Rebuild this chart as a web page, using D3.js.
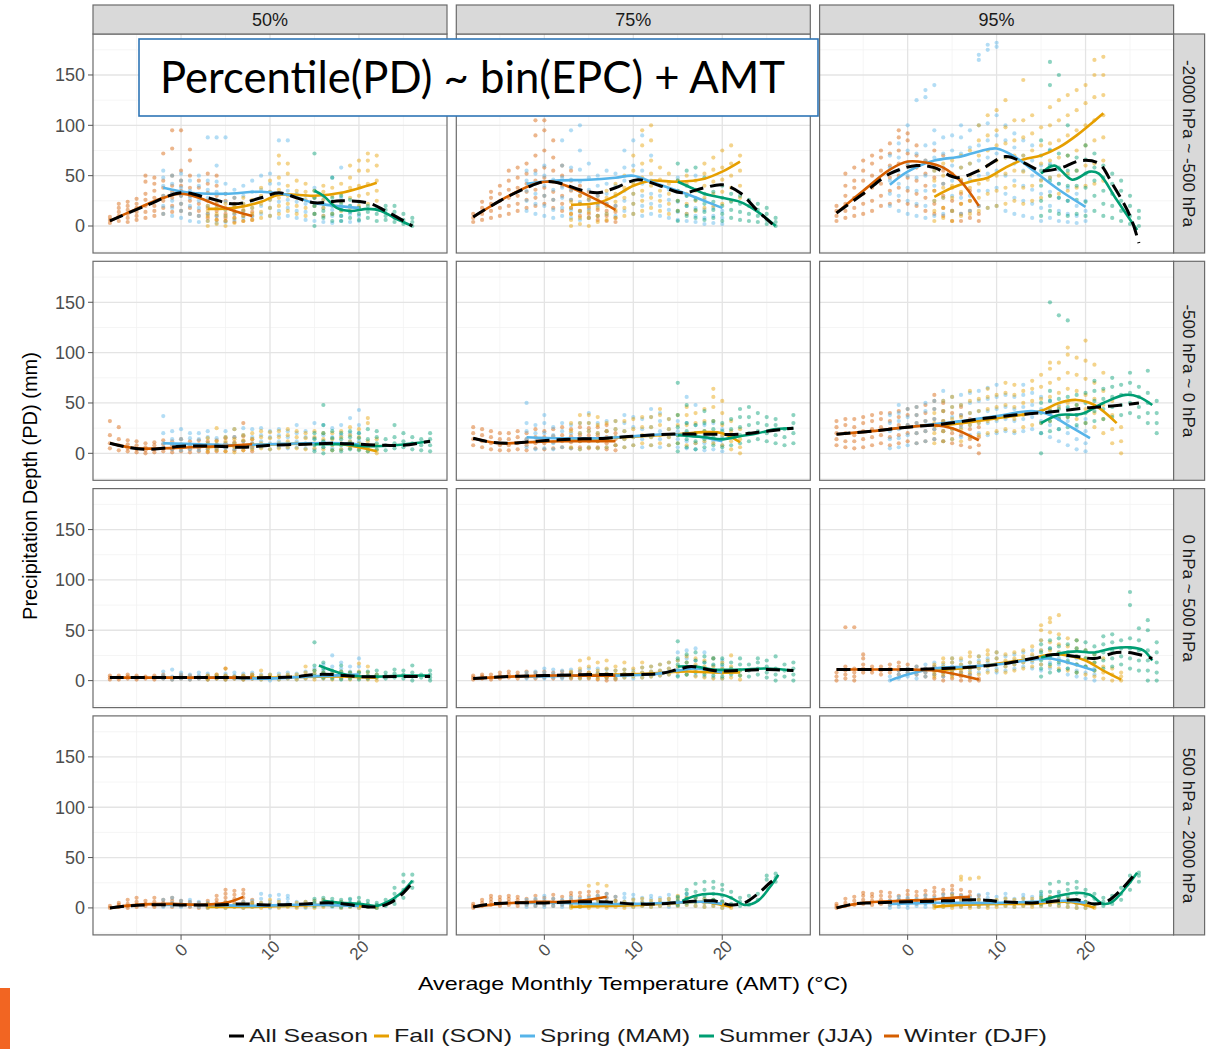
<!DOCTYPE html>
<html><head><meta charset="utf-8">
<script src="https://cdn.jsdelivr.net/npm/d3@7"></script>
<style>html,body{margin:0;padding:0;background:#fff;}svg{display:block;}</style>
</head><body>
<svg id="c" width="1209" height="1049"></svg>
<script>
// ---------- categories ----------
const percentiles = ["50%", "75%", "95%"];
const levels = ["-2000 hPa ~ -500 hPa", "-500 hPa ~ 0 hPa", "0 hPa ~ 500 hPa", "500 hPa ~ 2000 hPa"];
const seasonCodes = ["A", "F", "S", "U", "W"];
const seasonNames = ["All Season", "Fall (SON)", "Spring (MAM)", "Summer (JJA)", "Winter (DJF)"];
const xTicks = [0, 10, 20];
const yTicks = [0, 50, 100, 150];
const xMinor = [-5, 5, 15, 25];
const yMinor = [-25, 25, 75, 125, 175];
const yTitle = "Precipitation Depth (PD) (mm)";
const xTitle = "Average Monthly Temperature (AMT) (°C)";
const overlayText = "Percentile(PD) ~ bin(EPC) + AMT";

// ---------- points: [season, AMT, PD values...] ----------
const pts_r1_50 = [
["W",-8,3,6,9],["W",-7,5,10,14,18,22],["W",-6,4,8,12,16,20,24],["W",-5,6,10,14,18,22,27],["W",-4,8,14,20,26,32,44,50],
["W",-3,10,15,20,28,35,42,48],["W",-2,12,18,25,30,38,45,72],["W",-1,14,20,28,34,40,50,77,95],["W",0,15,22,30,35,40,45,55,95],
["W",1,12,18,25,30,38,50,65,76],["W",2,10,15,22,30,38,45],["W",3,8,12,18,25,33,42,52],["W",4,6,10,15,22,30,40,50],
["W",5,5,8,12,18,25,32],["W",6,4,8,12,18,22,28],["W",7,5,10,15,20],["W",8,6,10,14],
["S",-2,12,20,30,40,48,55],["S",-1,10,18,25,32,42,50],["S",0,8,15,22,30,38,45,52],["S",1,5,12,20,28,35,45],["S",2,4,10,18,25,32,40,50],
["S",3,5,12,20,28,36,45,88],["S",4,3,10,18,26,34,44,60,88],["S",5,4,10,16,24,32,42,88],["S",6,6,12,20,28,36],["S",7,8,15,22,30,40],
["S",8,10,18,25,34,45],["S",9,12,20,28,36,50],["S",10,10,18,26,34,42,52],["S",11,8,15,24,32,42,85],["S",12,10,18,26,35,85],
["S",13,8,15,24,32],["S",14,6,14,22,30],["S",15,5,12,20,28,38],["S",16,4,10,18,26],["S",17,3,10,16,24,48],["S",18,5,10,18,28,58],
["S",19,4,12,20],["S",20,5,10,18],
["F",3,0,5,10,15,20],["F",4,2,6,12,18,25],["F",5,0,5,10,16,22],["F",6,3,8,14,20],["F",7,5,10,16,22,28],["F",8,6,12,18,26],
["F",9,8,14,22,30,38],["F",10,10,18,26,34,45],["F",11,12,20,28,36,48,62,70],["F",12,15,22,30,40,52,62],["F",13,12,20,28,35,45],
["F",14,10,18,26,34,42],["F",15,12,20,28,35],["F",16,10,18,26,34,40],["F",17,12,22,30,38],["F",18,15,24,32,42],
["F",19,18,28,38,48,60],["F",20,20,30,40,55,65],["F",21,22,32,42,55,65,72],["F",22,25,35,45,60,70],
["U",15,0,12,20,28,35,72],["U",16,8,15,22,30],["U",17,5,12,20,28,48],["U",18,5,10,16,22,30],["U",19,8,14,20,26],["U",20,6,12,18,24],
["U",21,8,14,20],["U",22,5,12,18],["U",23,6,10,16,20],["U",24,4,8,14,20],["U",25,2,6,12],["U",26,0,4,8]
];
const pts_r1_75 = [
["W",-8,4,8,12],["W",-7,6,12,18,24],["W",-6,8,15,22,28,34],["W",-5,10,18,25,32,40],["W",-4,12,20,28,36,45,55],
["W",-3,15,22,30,38,48,58],["W",-2,18,26,34,42,52,62],["W",-1,20,28,36,45,55,70,90,105],["W",0,22,30,38,48,58,75,95,105],
["W",1,18,26,34,44,55,68,85],["W",2,15,22,30,40,50,60],["W",3,12,18,26,35,45,55],["W",4,10,15,22,30,40],["W",5,8,12,18,26,34],
["W",6,6,10,16,22,30],["W",7,5,10,15,22],["W",8,4,8,14,20],
["S",-2,15,25,35,45,55],["S",-1,12,22,32,42,52],["S",0,10,20,30,40,50,60],["S",1,8,16,26,36,46],["S",2,10,18,28,38,48,60,85],
["S",3,8,16,26,36,46,58,95],["S",4,6,14,24,34,44,56,75,100],["S",5,8,16,26,36,48,62],["S",6,10,20,30,40,50],["S",7,12,22,32,42,55],
["S",8,10,20,30,40,52],["S",9,15,25,35,45,58,75],["S",10,12,22,32,44,60,85],["S",11,10,20,30,42,55,90],["S",12,12,22,32,45,70],
["S",13,10,20,30,40],["S",14,8,16,26,36],["S",15,6,14,24,34,48],["S",16,5,12,20,30],["S",17,4,10,18,28,50],["S",18,2,8,16,26],
["S",19,3,10,18],["S",20,2,8,15],
["F",3,0,6,12,18,24],["F",4,2,8,15,22,30],["F",5,0,8,14,20,28],["F",6,4,10,18,26],["F",7,6,12,20,28,35],["F",8,8,16,24,32,42],
["F",9,10,18,28,38,50],["F",10,12,22,32,42,55,70],["F",11,15,25,35,48,62,80,95],["F",12,18,28,40,52,65,85,100],["F",13,15,25,35,46,58],
["F",14,12,22,32,42,52],["F",15,15,25,35,45],["F",16,12,22,32,42,50],["F",17,15,25,35,45],["F",18,18,28,40,52,62],
["F",19,20,32,44,56,68],["F",20,22,34,46,58,75],["F",21,25,38,50,62,80],["F",22,28,40,55,70],
["U",15,5,15,25,35,45,62],["U",16,10,20,30,40,55],["U",17,8,16,26,36,58],["U",18,6,14,22,32,48],["U",19,8,16,24,34],
["U",20,5,12,20,28,40],["U",21,8,16,24,32],["U",22,6,14,22,30],["U",23,5,12,20,26],["U",24,4,10,16,22],["U",25,2,6,12,18],["U",26,0,4,8]
];
const pts_r1_95 = [
["W",-8,5,10,15,20],["W",-7,8,15,22,30,40,52],["W",-6,10,18,28,38,45,58],["W",-5,12,22,32,45,55,65],["W",-4,15,25,38,50,62,70],
["W",-3,20,30,42,55,68,75],["W",-2,22,35,48,60,72,82],["W",-1,25,38,50,62,75,88,95],["W",0,22,35,48,60,72,85,92],
["W",1,20,32,45,58,70,80],["W",2,15,28,40,52,65],["W",3,12,22,35,48,60,75],["W",4,10,18,30,42,55,70],["W",5,5,15,25,38,50],
["W",6,5,12,22,32,45],["W",7,8,15,25,35],["W",8,5,12,20],
["S",-2,20,32,45,58,70],["S",-1,15,30,42,55,68,82],["S",0,12,25,38,50,62,75,100],["S",1,10,22,35,48,60,72,125],
["S",2,8,20,35,50,65,80,128,135],["S",3,10,25,40,55,68,82,95,140],["S",4,12,28,42,58,72,88],["S",5,15,30,45,60,75,90],
["S",6,12,28,44,58,72,88,100],["S",7,15,30,46,62,78,95],["S",8,20,35,50,65,80,100,165,170],["S",9,18,35,52,68,85,102,175,180],
["S",10,20,38,55,72,90,110,178,182],["S",11,15,32,50,68,85,100],["S",12,12,28,45,62,78,92],["S",13,10,25,40,55,70,85],
["S",14,8,22,36,50,65,80],["S",15,5,18,32,46,60],["S",16,8,20,34,48,62,76],["S",17,5,15,28,42,56],["S",18,4,12,25,38,50],
["S",19,3,10,20,32],["S",20,5,15,25],
["F",3,5,15,25,35,45,55],["F",4,8,18,28,38,50,62],["F",5,5,15,28,40,52,65],["F",6,10,22,34,46,58,70],["F",7,12,25,38,50,62,75],
["F",8,15,28,42,55,70,85,100],["F",9,18,32,46,60,75,90,110],["F",10,20,35,50,65,80,95,115],["F",11,22,38,52,68,82,98,125],
["F",12,25,40,55,70,85,105],["F",13,22,38,54,70,88,105,145],["F",14,25,40,58,75,92,110],["F",15,28,45,62,80,98],
["F",16,30,48,65,82,100,118],["F",17,32,50,68,85,105,125],["F",18,35,52,70,90,110,130],["F",19,38,55,75,95,115,135],
["F",20,40,60,80,100,122,140],["F",21,42,62,85,105,128,150,165],["F",22,45,65,88,110,130,150,168],
["U",15,10,25,40,55,70,85],["U",16,15,30,45,60,75,140,163],["U",17,12,28,42,58,72,150],["U",18,10,25,40,55,70,100],
["U",19,12,26,40,55,68],["U",20,10,24,38,52,66,80],["U",21,15,30,45,58,72],["U",22,10,22,35,48,60],["U",23,8,20,32,42,52],
["U",24,5,15,25,35,45],["U",25,2,10,20,30],["U",26,0,8,15]
];
const pts_r2_50 = [
["W",-8,5,10,18,32],["W",-7,3,8,14,26],["W",-6,2,5,9,13],["W",-5,1,4,8,12],["W",-4,0,3,6,10],["W",-3,1,4,8,11],["W",-2,2,5,9,13],
["W",-1,1,4,8,12],["W",0,2,5,9,14],["W",1,1,4,8,12],["W",2,2,5,9,13],["W",3,1,4,8,12],["W",4,2,5,9,13],["W",5,2,6,10,15],
["W",6,3,7,11,16],["W",7,3,8,12,17,30],["W",8,2,6,10,14],
["S",-2,5,10,20,37],["S",-1,4,9,14,22],["S",0,3,8,14,24],["S",1,4,9,15,20],["S",2,3,8,14,20],["S",3,5,10,16,22],["S",4,4,9,15],
["S",5,5,10,16,22],["S",6,4,10,16,24],["S",7,6,12,18,25],["S",8,5,10,16,24],["S",9,6,12,18,25],["S",10,4,10,16,22],
["S",11,6,12,18,24],["S",12,5,10,16,22],["S",13,6,12,20,28],["S",14,5,10,16,22],["S",15,4,9,15,30],["S",16,6,12,18,28],
["S",17,5,10,16,25],["S",18,4,10,18,28],["S",19,5,12,20,35],["S",20,6,12,20,28,43],
["F",3,2,6,10,15],["F",4,3,8,12,25],["F",5,2,7,12,16],["F",6,1,6,10,14,24],["F",7,3,8,13,18],["F",8,4,9,14,20],["F",9,5,10,16,22],
["F",10,4,9,15,21],["F",11,5,10,16,22],["F",12,6,12,18,24],["F",13,5,10,16,22],["F",14,4,9,15,20],["F",15,5,10,16,22],
["F",16,4,9,14,20],["F",17,3,8,14,20],["F",18,4,10,16,22],["F",19,5,12,18,26],["F",20,4,10,16,24],["F",21,2,6,12,30,35],["F",22,0,3,8,14],
["U",15,2,8,14,20],["U",16,0,6,12,20,28,48],["U",17,3,9,15,22],["U",18,2,8,14,20],["U",19,4,10,16,22],["U",20,3,9,15,20],
["U",21,2,8,14,24],["U",22,4,10,16,22],["U",23,3,8,14],["U",24,5,10,16,28],["U",25,6,12,20],["U",26,4,10,16],["U",27,3,8,14],["U",28,2,8,14,20]
];
const pts_r2_75 = [
["W",-8,8,14,20,26],["W",-7,6,12,18,24],["W",-6,4,10,16,22],["W",-5,3,8,14,20],["W",-4,3,8,14,20],["W",-3,4,10,16,22],
["W",-2,3,8,14,20],["W",-1,5,10,16,24],["W",0,4,10,16,22],["W",1,5,11,17,24],["W",2,6,12,18,26],["W",3,5,11,17,24],
["W",4,6,12,18,26],["W",5,5,12,18,25],["W",6,6,12,18,26],["W",7,4,10,16,22,28],["W",8,3,8,14,20],
["S",-2,6,14,22,30,50],["S",-1,4,12,20,28],["S",0,5,12,20,30,38],["S",1,4,10,18,26],["S",2,6,14,22,30],["S",3,5,12,20,28],
["S",4,4,12,20,30],["S",5,6,14,22,30,40],["S",6,5,12,20,30],["S",7,6,14,22,32],["S",8,8,16,24,32],["S",9,6,14,22,30,38],
["S",10,8,16,26,36],["S",11,6,14,24,34],["S",12,8,16,26,36,44],["S",13,6,14,22,32,40],["S",14,8,16,24,34],["S",15,6,14,22,32],
["S",16,5,12,20,30,56],["S",17,4,10,18,28,48],["S",18,3,10,18,28],["S",19,4,12,20,30],["S",20,2,8,16,24],
["F",3,6,14,22,30],["F",4,4,12,20,30,38],["F",5,6,14,22,30,38],["F",6,5,12,20,28,36],["F",7,6,14,22,30],["F",8,8,16,24,32],
["F",9,6,14,22,32],["F",10,8,16,24,34],["F",11,10,18,26,36],["F",12,8,16,26,36],["F",13,10,18,28,38,44],["F",14,8,16,24,34],
["F",15,10,18,28,38],["F",16,8,18,28,38,46],["F",17,10,20,30,40],["F",18,12,22,32,44],["F",19,10,20,32,46,56,64],
["F",20,8,18,28,40,52],["F",21,4,12,22,32],["F",22,0,6,14,24],
["U",15,2,10,18,26,38,70],["U",16,6,14,22,30,48],["U",17,4,12,20,28],["U",18,6,14,22,30,42],["U",19,8,16,24,32],["U",20,6,14,22,30],
["U",21,8,16,24,34],["U",22,10,18,26,36,44],["U",23,12,20,28,36,46],["U",24,14,22,30,40],["U",25,12,20,28,36],["U",26,10,18,28,34],
["U",27,8,16,24],["U",28,10,20,30,38]
];
const pts_r2_95 = [
["W",-8,8,14,20,26,32],["W",-7,6,12,20,28,34],["W",-6,5,12,18,26,34],["W",-5,6,14,22,30,36],["W",-4,8,16,24,32,38],
["W",-3,10,18,26,34,40],["W",-2,8,16,24,32,40],["W",-1,10,18,28,36,42],["W",0,12,20,28,38,44],["W",1,10,20,30,38,46],
["W",2,12,22,32,40,48],["W",3,14,24,34,44,52,58],["W",4,12,22,32,42,50],["W",5,10,20,30,40],["W",6,8,18,28,38,46],
["W",7,6,14,24,34],["W",8,0,8,16,26],
["S",-2,5,14,22,30,38],["S",-1,6,15,24,32,40,48],["S",0,8,18,28,36,44],["S",1,10,20,30,38,46],["S",2,12,22,32,42,50],
["S",3,14,24,34,44,52],["S",4,12,22,32,42,52,62],["S",5,14,24,36,46,56],["S",6,16,26,38,48,58],["S",7,18,28,40,50,60],
["S",8,20,30,42,52,62],["S",9,18,30,42,54,65],["S",10,20,32,44,56,68],["S",11,22,34,46,58],["S",12,20,32,44,56],
["S",13,22,34,46,58,68],["S",14,24,36,48,60],["S",15,20,32,44,56],["S",16,16,28,40,52],["S",17,12,24,36,48],["S",18,8,20,32,44],
["S",19,4,14,26,38],["S",20,2,10,22,34],
["F",3,10,20,30,40],["F",4,12,22,32,42,52],["F",5,14,24,34,46,56],["F",6,12,24,36,48],["F",7,16,28,40,52,62],["F",8,18,30,42,54],
["F",9,20,32,44,56,64],["F",10,22,34,46,58],["F",11,24,36,48,60,70],["F",12,22,34,46,58,68],["F",13,26,38,50,62],
["F",14,28,40,52,64,72],["F",15,30,42,54,66,78],["F",16,32,44,56,70,84,90],["F",17,34,46,60,74,90],["F",18,36,50,64,80,98,105],
["F",19,34,48,62,78,95],["F",20,30,44,58,74,92,112],["F",21,26,40,54,70,88],["F",22,20,34,48,62,80],["F",23,10,24,38,52],["F",24,0,12,26],
["U",15,0,20,30,40,50],["U",16,22,32,42,52,62,150],["U",17,24,34,44,54,137],["U",18,26,36,46,56,132],["U",19,28,38,48,58],
["U",20,30,40,50,60],["U",21,32,42,52,62,72],["U",22,34,44,54,64],["U",23,36,46,56,66,75],["U",24,38,48,58,68],
["U",25,40,50,60,70,80],["U",26,36,46,56,66],["U",27,30,40,50,60,82],["U",28,20,30,40,52]
];
const pts_r3_50 = [
["W",-8,1,3,5],["W",-7,1,3,5],["W",-6,2,4,6],["W",-5,1,3,5],["W",-4,2,4],["W",-3,1,3,5],["W",-2,2,4,6],["W",-1,1,3],
["W",0,2,4,6],["W",1,1,3,5],["W",2,2,4],["W",3,1,3,5],["W",4,2,4,6],["W",5,1,3,5,12],["W",6,2,4],["W",7,1,3,5],["W",8,2,4,6],
["S",-2,2,5,9],["S",-1,1,4,11],["S",0,2,5,8],["S",1,1,3,6],["S",2,2,5,8],["S",3,1,4,7],["S",4,2,5],["S",5,1,4,7],["S",6,2,5,8],
["S",7,1,4,7],["S",8,2,5,8],["S",9,1,3,6],["S",10,0,3,6],["S",11,1,4,7],["S",12,2,5,8],["S",13,1,4,7],["S",14,2,5,9],
["S",15,3,7,12],["S",16,2,6,10,16],["S",17,3,8,14,25],["S",18,2,6,12,18],["S",19,4,9,14],["S",20,3,8,14,22],
["F",3,1,3,5],["F",4,2,4,6],["F",5,1,3,5,12],["F",6,2,4],["F",7,1,3,5],["F",8,2,4,6],["F",9,1,3,5,10],["F",10,2,4,6],
["F",11,1,3,5],["F",12,2,4,6],["F",13,1,3,6],["F",14,2,5,8,14],["F",15,1,4,7,10],["F",16,2,5,8],["F",17,1,4,7],["F",18,2,5,9],
["F",19,1,4,8],["F",20,2,5,9,17],["F",21,1,4,8,14],["F",22,0,3,6],
["U",15,5,10,15,38],["U",16,3,8,12,18],["U",17,2,6,10],["U",18,1,5,9,15],["U",19,2,5,8],["U",20,1,4,8],["U",21,2,5,9],
["U",22,3,6,10],["U",23,2,5,8],["U",24,3,7,11],["U",25,2,6,10],["U",26,0,4,8,15],["U",27,3,6],["U",28,0,3,6,10]
];
const pts_r3_75 = [
["W",-8,1,3,5],["W",-7,2,4,6],["W",-6,1,3,6],["W",-5,2,5,8],["W",-4,3,6,9],["W",-3,2,5,8],["W",-2,3,6,9],["W",-1,2,5,8],
["W",0,3,6,9],["W",1,2,5,8],["W",2,3,6,9],["W",3,2,5,8],["W",4,3,6,9],["W",5,2,5,8],["W",6,1,4,7],["W",7,0,3,6],["W",8,1,4],
["S",-2,2,5,8],["S",-1,3,6,9],["S",0,2,5,8,12],["S",1,3,7,11],["S",2,2,6,10],["S",3,3,7,11],["S",4,2,6,10],["S",5,3,7,12],
["S",6,4,8,12],["S",7,3,7,11],["S",8,2,6,10],["S",9,3,7,11],["S",10,2,6,10],["S",11,3,8,13],["S",12,4,9,14],["S",13,5,10,16],
["S",14,6,12,18],["S",15,5,12,20,28],["S",16,6,14,22,30],["S",17,5,12,20,32],["S",18,4,10,18,28],["S",19,3,9,15,22],["S",20,2,8,14,20],
["F",3,3,6,9],["F",4,2,6,12,20],["F",5,3,8,14,22],["F",6,2,6,10,18],["F",7,3,7,12,20],["F",8,2,6,10,14],["F",9,3,7,11,18],
["F",10,4,8,12],["F",11,3,8,13,18],["F",12,4,9,14],["F",13,5,10,16],["F",14,6,12,18],["F",15,8,14,20],["F",16,6,12,18,24],
["F",17,4,10,16,22],["F",18,3,8,14,20],["F",19,2,8,14,22],["F",20,2,7,12,18],["F",21,3,8,14,25],["F",22,1,5,10],
["U",15,4,10,16,22,39],["U",16,6,12,18,26],["U",17,8,14,20,28],["U",18,6,12,18,24],["U",19,5,10,16,22],["U",20,4,10,16,22],
["U",21,6,12,18],["U",22,5,10,16,22],["U",23,4,10,16],["U",24,6,12,18,22],["U",25,3,8,14,20],["U",26,0,6,12,24],["U",27,4,10,16],["U",28,0,6,12,18]
];
const pts_r3_95 = [
["W",-8,0,4,8],["W",-7,2,6,10,14,53],["W",-6,0,4,8,12,53],["W",-5,8,12,16,22,26],["W",-4,8,11,14],["W",-3,6,10,14],
["W",-2,8,12,16],["W",-1,6,10,14,18],["W",0,8,12,16],["W",1,6,10,14],["W",2,4,8,12],["W",3,2,6,10,14],["W",4,0,4,8,12],
["W",5,2,6,10],["W",6,0,4,8],["W",7,0,3,6],["W",8,0,2],
["S",-2,0,4],["S",-1,2,6,10],["S",0,4,8,12],["S",1,2,6,10,14],["S",2,4,8,12,16],["S",3,6,10,14,18],["S",4,4,8,12,16],
["S",5,6,10,14,18,22],["S",6,8,12,16,20],["S",7,6,10,14,18],["S",8,8,12,16,20,24],["S",9,10,14,18,22],["S",10,8,12,16,22,28],
["S",11,10,14,18,24],["S",12,12,16,20,26],["S",13,14,18,22,28],["S",14,12,18,24,30],["S",15,10,16,22,30,40],["S",16,12,18,24,32],
["S",17,10,16,22,28],["S",18,6,12,18,24],["S",19,4,10,16,22],["S",20,2,8,14],["S",21,0,6,12],
["F",3,4,8,12,16],["F",4,6,10,14,18,22],["F",5,4,8,12,18,22],["F",6,6,10,16,22],["F",7,8,12,18,24,28],["F",8,6,12,18,24],
["F",9,8,14,20,26,30],["F",10,10,16,22,28],["F",11,8,14,20,26],["F",12,10,16,22,28],["F",13,12,18,24,30],["F",14,14,20,26,34],
["F",15,16,22,30,40,50,55],["F",16,14,22,30,38,48,58,62],["F",17,12,20,28,36,46,65],["F",18,10,18,26,34,42],["F",19,8,16,24,32,40],
["F",20,6,14,22,30],["F",21,4,10,18,26],["F",22,2,8,14,22],["F",23,0,6,12],["F",24,0,4,8],
["U",15,4,12,20,28,36],["U",16,8,16,24,32,40],["U",17,10,18,26,34,42],["U",18,12,20,28,36],["U",19,8,16,24,32,40],
["U",20,14,22,30,38],["U",21,10,18,26,34],["U",22,12,20,28,36,44],["U",23,14,22,30,38,46],["U",24,16,24,32,40],
["U",25,12,22,32,42,75,88],["U",26,10,20,30,40,52],["U",27,0,10,20,30,50,60],["U",28,0,8,18,28,38]
];
const pts_r4_50 = [
["W",-8,0,2],["W",-7,1,3,5],["W",-6,0,2,4,8],["W",-5,1,3,6,10],["W",-4,2,4,7],["W",-3,1,3,6,10],["W",-2,2,5,8],["W",-1,1,4,7,10],
["W",0,2,4,7],["W",1,1,3,6],["W",2,0,3,5],["W",3,1,4,7],["W",4,2,5,8,12],["W",5,3,6,10,14,18],["W",6,2,5,9,13,17],
["W",7,3,6,10,14,18],["W",8,2,5,8],
["S",-2,1,4,8],["S",-1,2,5,10],["S",0,1,4,7],["S",1,2,5,8],["S",2,1,3,6],["S",3,0,3,5],["S",4,1,3],["S",5,0,2,5],["S",6,1,3],
["S",7,0,3,6],["S",8,1,4,7],["S",9,2,5,9,14],["S",10,0,3,6,12],["S",11,1,4,8,13],["S",12,2,5,9,12],["S",13,1,3,6],["S",14,0,3,6],
["S",15,1,4,7],["S",16,2,5,8],["S",17,1,4],["S",18,0,3,6],["S",19,1,4,8],["S",20,0,3,5],
["F",3,0,2,4],["F",4,1,3],["F",5,0,2,5],["F",6,1,3],["F",7,0,2,4],["F",8,1,3,5],["F",9,0,2,5],["F",10,1,4,8],["F",11,0,3,6],
["F",12,1,3],["F",13,0,2,5],["F",14,1,3,6],["F",15,0,3,7],["F",16,1,4,8],["F",17,2,5],["F",18,0,3,6],["F",19,1,4],["F",20,0,2,5],
["F",21,1,3],["F",22,0,2],
["U",15,2,5,9],["U",16,3,6,10],["U",17,2,6,9],["U",18,1,4,8],["U",19,2,5,9],["U",20,3,6,10],["U",21,1,4,7],["U",22,0,3,5],
["U",23,2,5,8],["U",24,4,9,14,20],["U",25,10,18,26,33],["U",26,20,26,33]
];
const pts_r4_75 = [
["W",-8,0,2,4],["W",-7,2,5,8],["W",-6,3,6,9,12],["W",-5,2,5,8,11],["W",-4,3,6,9,12],["W",-3,2,5,8,11],["W",-2,3,6,9],
["W",-1,2,5,8,12],["W",0,3,6,10],["W",1,2,5,9,13],["W",2,3,7,11],["W",3,4,8,12,15],["W",4,3,7,11,15],["W",5,4,8,12,16],
["W",6,3,8,12,16],["W",7,2,6,10,14],["W",8,3,7,11],
["S",-2,1,4,8],["S",-1,2,5,9],["S",0,1,4,8,12],["S",1,2,5,9],["S",2,1,4,8],["S",3,2,6,10],["S",4,1,5,9],["S",5,2,6,10],
["S",6,3,7,12],["S",7,2,6,10,14],["S",8,3,7,11],["S",9,2,6,10,14],["S",10,1,5,9,13],["S",11,2,6,10],["S",12,1,5,9,12],
["S",13,2,6,10],["S",14,1,5,9,13],["S",15,2,6,10],["S",16,3,7,11,14],["S",17,2,6,10],["S",18,1,5,9],["S",19,2,5,8],["S",20,0,4,7],
["F",3,0,2,5],["F",4,1,3,6],["F",5,0,3,6,22],["F",6,1,4,8,24],["F",7,0,3,6,22],["F",8,1,4,7],["F",9,0,3,6],["F",10,1,4,8],
["F",11,2,5,9],["F",12,1,4,7],["F",13,2,5,8],["F",14,3,6,9],["F",15,2,5,9,12],["F",16,3,6,10],["F",17,2,6,10],["F",18,1,5,9],
["F",19,2,5,8],["F",20,0,3,6],["F",21,0,2],
["U",15,3,7,11],["U",16,5,9,14,18],["U",17,6,10,16,24],["U",18,7,12,18,26],["U",19,8,14,20,26],["U",20,6,12,18,23],
["U",21,4,10,16],["U",22,2,6,10],["U",23,3,7,12],["U",24,8,14],["U",25,20,28,32],["U",26,26,30,34]
];
const pts_r4_95 = [
["W",-8,0,2,4],["W",-7,2,5,9],["W",-6,3,7,11],["W",-5,4,8,12,15],["W",-4,3,7,11,14],["W",-3,4,8,12,16],["W",-2,3,7,11,15],
["W",-1,4,8,12],["W",0,5,9,13,17],["W",1,4,8,12,16],["W",2,5,9,13,17],["W",3,4,8,12,16,20],["W",4,5,10,14,18],
["W",5,4,9,14,18,22],["W",6,3,8,13,18],["W",7,2,7,12,16],["W",8,3,8,12],
["S",-2,0,3,7],["S",-1,1,4,8,11],["S",0,0,3,7,10],["S",1,2,5,9],["S",2,1,4,8,12],["S",3,2,6,10],["S",4,1,5,9,13],
["S",5,2,6,10,14],["S",6,1,5,9,12],["S",7,2,6,10],["S",8,1,5,9,13],["S",9,2,6,10,14],["S",10,3,7,11],["S",11,2,6,10,14],
["S",12,1,5,9],["S",13,2,6,10,13],["S",14,3,7,11],["S",15,2,6,10,14],["S",16,3,7,11],["S",17,2,6,10,14],["S",18,1,5,9],
["S",19,0,4,8],["S",20,0,3,6],
["F",3,0,3,6],["F",4,1,4,8],["F",5,0,3,7,12],["F",6,1,5,9,28,31],["F",7,0,4,8,29],["F",8,1,4,8,30],["F",9,0,3,7],["F",10,1,4,8],
["F",11,2,5,9],["F",12,1,4,8],["F",13,2,5,9],["F",14,1,5,9],["F",15,2,6,10],["F",16,3,7,11],["F",17,2,6,10],["F",18,1,5,9],
["F",19,0,4,8],["F",20,0,3,6],["F",21,0,2],
["U",15,4,8,12,16],["U",16,6,10,16,24],["U",17,5,10,16,26],["U",18,6,12,18,24],["U",19,8,14,20,26],["U",20,6,12,18],
["U",21,4,9,14],["U",22,2,6,10],["U",23,4,8,12],["U",24,8,14,20],["U",25,18,26,32],["U",26,26,32,35]
];

// ---------- smoothed lines: [season, x1,y1, x2,y2, ...] ----------
const lines_r1_50 = [
["F",3,17,6,18,9,24,11,31,15,30,18,33,22,43],
["S",-2,38,1,33,5,32,9,34,12,31,15,23,20,18],
["U",15,35,16,30,17.5,18,19,15,21,17,22.5,15,24,8,26,0],
["W",-8,5,-5,17,-2,28,0,32,2,28,4,21,6,15,8,10],
["A",-8,5,-4,20,0,33,3,28,6,22,9,28,11,33,13,28,15,23,18,25,21,23,23,15,26,0]
];
const lines_r1_75 = [
["F",3,21,6,23,8,30,10,40,12,45,15,44,18,47,20,54,22,64],
["S",-2,42,1,45,5,46,8,48,10,50,12,44,15,35,18,25,20,18],
["U",15,44,16.5,38,18,32,20,28,22,24,24,14,26,0],
["W",-8,9,-4,30,-1,42,1,44,3,38,5,30,7,21,8,16],
["A",-8,9,-5,25,-2,38,0,44,2,42,4,36,6,33,8,38,10.5,46,13,40,15.5,33,18,38,20,41,22,33,24,15,26,-1]
];
const lines_r1_95 = [
["F",3,29,5,38,7,44,9,48,11,58,13,66,15,70,17,78,19,90,22,112],
["S",-2,41,0,54,3,65,6,69,8,74,10,77,12,69,14,56,17,36,20,19],
["U",15,52,16.5,60,18.5,46,20.5,54,21.5,52,23.5,26,25.8,-4],
["W",-8,13,-5,35,-2,56,0,64,2,63,4,58,6,44,8,20],
["A",-8,13,-5,32,-2,52,1,60,3,58,5.5,48,8,55,11,69,13,63,15,55,17,57,19.5,65,21.5,62,23,42,25,10,26,-17]
];
const lines_r2_50 = [
["F",3,6,7,8,11,9,15,10,18,9,20,6,22,2],
["S",-2,10,2,9,6,8,10,9,14,10,18,10,20,9],
["U",15,9,18,9,21,7,24,8,28,12],
["W",-8,10,-5,5,-2,5,1,6,4,7,8,9],
["A",-8,10,-6,6,-4,4,-2,5,0,7,4,7,7,6,10,8,14,9,17,10,20,9,23,8,25,8,28,12]
];
const lines_r2_75 = [
["F",3,13,7,15,11,17,15,19,18,21,20,20,22,11],
["S",-2,16,2,15,6,15,10,17,14,19,17,17,20,12],
["U",15,18,18,16,20,14,22,17,24,20,26,24,28,25],
["W",-8,15,-5,10,-2,11,2,12,5,12,8,12],
["A",-8,15,-6,11,-4,10,-1,12,3,14,7,15,10,17,14,19,18,19,22,19,25,22,28,25]
];
const lines_r2_95 = [
["F",3,27,7,31,11,36,15,42,17,50,19,53,21,48,23.5,30],
["S",-2,24,2,28,6,32,10,37,14,42,16,38,18,28,20.5,15],
["U",15,30,17,38,19.5,39,22,50,24.5,58,26,56,27.5,48],
["W",-8,19,-4,22,0,26,3,28,5,25,8,13],
["A",-8,19,-4,22,0,26,4,29,8,34,12,38,16,41,20,45,23,47,26,50]
];
const lines_r3_50 = [
["F",3,3,10,3,15,4,19,4,22,3],
["S",-2,3,5,3,10,2,14,4,17,5,20,6],
["U",15.5,15,17,10,19,5,22,4,25,5,28,5],
["W",-8,3,-4,3,0,3,4,3,8,3],
["A",-8,3,0,3,5,3,10,3,13,4,15,6,17,6,20,4,24,4,28,4]
];
const lines_r3_75 = [
["F",3,5,8,6,12,7,16,9,19,8,22,8],
["S",-2,4,3,5,8,5,12,6,15,10,17,12,20,8],
["U",15,14,17,14,19,11,22,11,25,12,28,10],
["W",-8,2,-4,4,0,5,4,5,8,5],
["A",-8,2,-4,4,0,5,5,6,10,6,13,7,15,11,16.5,14,19,10,22,10,25,11,28,10]
];
const lines_r3_95 = [
["F",3,10,7,13,11,18,14,22,16,26,18,25,20,20,22,10,24,1],
["S",-2,0,0,6,3,12,7,14,11,17,14,21,16,22,18,18,21,10],
["U",15,23,17,27,19,29,21,28,23,32,25,33,26.5,30,27.5,20],
["W",-8,11,-4,11,0,11,3,10,5,7,8,1],
["A",-8,11,-4,11,0,11,4,12,8,14,11,17,14,22,16.5,26,19,24,21,22,23.5,28,25.5,27,27.5,22]
];
const lines_r4_50 = [
["F",3,1,8,1,12,2,16,3,20,2,22,1],
["S",-2,3,3,3,8,2,12,3,16,3,20,2],
["U",16,7,18,5,20,4,22,2,23,5,24.5,13,26,27],
["W",-8,0,-5,3,-1,4,2,3,5,5,7,11],
["A",-8,0,-6,2,-4,3,0,3,4,3,7,4,10,3,14,4,17,5,20,2,22,1,23.5,5,25,15,26,25]
];
const lines_r4_75 = [
["F",3,1,7,2,11,3,15,5,18,6,20,3,21,1],
["S",-2,5,2,5,6,4,10,4,14,5,18,6,20,4],
["U",15.5,7,17,12,18.6,14,20,13,21,10,22.5,3,24,7,25.3,20,26.3,33],
["W",-8,1,-5,4,-1,6,2,6,5,8,7,11],
["A",-8,1,-6,4,-4,5,0,5,4,6,7,6,10,4,13,4,16,6,19,7,21,3,22.5,5,24,14,25.5,26,26.3,31]
];
const lines_r4_95 = [
["F",3,1,6,3,10,4,14,4,18,6,20,3,21,0],
["S",-2,4,2,5,6,5,10,5,14,6,18,7,20,5],
["U",15,7,17,12,19,15,20.5,13,22,4,23,6,24.5,20,25.8,35],
["W",-8,0,-5,5,-1,7,2,8,5,10,7,11],
["A",-8,0,-6,4,-4,5,0,6,4,7,8,8,11,6,14,5,17,7,19,8,21,4,22.5,7,24,18,25.5,33]
];

const panelPoints = [[pts_r1_50, pts_r1_75, pts_r1_95],[pts_r2_50, pts_r2_75, pts_r2_95],[pts_r3_50, pts_r3_75, pts_r3_95],[pts_r4_50, pts_r4_75, pts_r4_95]];
const panelLines = [[lines_r1_50, lines_r1_75, lines_r1_95],[lines_r2_50, lines_r2_75, lines_r2_95],[lines_r3_50, lines_r3_75, lines_r3_95],[lines_r4_50, lines_r4_75, lines_r4_95]];

// ---------- styling ----------
const colorScale = d3.scaleOrdinal().domain(seasonCodes).range(["#000000", "#E69F00", "#56B4E9", "#009E73", "#D55E00"]);

const svg = d3.select("#c");
const left0 = 93, top0 = 34, pw = 354, ph = 219, hStep = 363.3, vStep = 227.3;
const stripH = 29, stripW = 31;
const x = d3.scaleLinear().domain([-9.9, 29.9]).range([0, pw]);
const y = d3.scaleLinear().domain([-26.8, 190.7]).range([ph, 0]);
const FONT = "'Liberation Sans', Arial, sans-serif";

const defs = svg.append("defs");
defs.append("clipPath").attr("id", "pclip").append("rect").attr("width", pw).attr("height", ph);

const lineGen = d3.line().x(d => x(d[0])).y(d => y(d[1])).curve(d3.curveCatmullRom.alpha(0.5));

levels.forEach((lev, r) => {
  percentiles.forEach((pc, c) => {
    const g = svg.append("g").attr("transform", `translate(${left0 + c * hStep},${top0 + r * vStep})`);
    g.append("rect").attr("width", pw).attr("height", ph).attr("fill", "#fff");
    // grid
    const grid = g.append("g");
    grid.selectAll(".xm").data(xMinor).join("line").attr("x1", d => x(d)).attr("x2", d => x(d)).attr("y1", 0).attr("y2", ph)
      .attr("stroke", "#F2F2F2").attr("stroke-width", 0.8);
    grid.selectAll(".ym").data(yMinor).join("line").attr("y1", d => y(d)).attr("y2", d => y(d)).attr("x1", 0).attr("x2", pw)
      .attr("stroke", "#F2F2F2").attr("stroke-width", 0.8);
    grid.selectAll(".xM").data(xTicks).join("line").attr("x1", d => x(d)).attr("x2", d => x(d)).attr("y1", 0).attr("y2", ph)
      .attr("stroke", "#E4E4E4").attr("stroke-width", 1.3);
    grid.selectAll(".yM").data(yTicks).join("line").attr("y1", d => y(d)).attr("y2", d => y(d)).attr("x1", 0).attr("x2", pw)
      .attr("stroke", "#E4E4E4").attr("stroke-width", 1.3);

    const inner = g.append("g").attr("clip-path", "url(#pclip)");
    // points
    const pts = [];
    panelPoints[r][c].forEach(col => {
      for (let i = 2; i < col.length; i++) pts.push({ s: col[0], x: col[1], v: col[i] });
    });
    inner.selectAll("circle").data(pts).join("circle")
      .attr("cx", d => x(d.x)).attr("cy", d => y(d.v)).attr("r", 2.1)
      .attr("fill", d => colorScale(d.s)).attr("fill-opacity", 0.45);
    // lines
    panelLines[r][c].forEach(ln => {
      const p = [];
      for (let i = 1; i < ln.length; i += 2) p.push([ln[i], ln[i + 1]]);
      inner.append("path").attr("d", lineGen(p)).attr("fill", "none")
        .attr("stroke", colorScale(ln[0]))
        .attr("stroke-width", ln[0] === "A" ? 3 : 2.6)
        .attr("stroke-dasharray", ln[0] === "A" ? "14,7" : null)
        .attr("stroke-linecap", "butt");
    });
    g.append("rect").attr("width", pw).attr("height", ph).attr("fill", "none").attr("stroke", "#6b6b6b").attr("stroke-width", 1.2);

    // y axis on first column
    if (c === 0) {
      const ya = g.append("g");
      ya.selectAll("line").data(yTicks).join("line").attr("x1", -5).attr("x2", 0).attr("y1", d => y(d)).attr("y2", d => y(d))
        .attr("stroke", "#555").attr("stroke-width", 1);
      ya.selectAll("text").data(yTicks).join("text").attr("x", -8).attr("y", d => y(d)).attr("dy", "0.36em")
        .attr("text-anchor", "end").attr("font-family", FONT).attr("font-size", 18).attr("fill", "#4D4D4D").text(d => d);
    }
    // x axis on bottom row
    if (r === levels.length - 1) {
      const xa = g.append("g").attr("transform", `translate(0,${ph})`);
      xa.selectAll("line").data(xTicks).join("line").attr("x1", d => x(d)).attr("x2", d => x(d)).attr("y1", 0).attr("y2", 5)
        .attr("stroke", "#555").attr("stroke-width", 1);
      xa.selectAll("text").data(xTicks).join("text")
        .attr("transform", d => `translate(${x(d)},15) rotate(-45)`)
        .attr("text-anchor", "middle").attr("dy", "0.36em")
        .attr("font-family", FONT).attr("font-size", 17).attr("fill", "#4D4D4D").text(d => d);
    }
    // top strip
    if (r === 0) {
      const s = g.append("g").attr("transform", `translate(0,${-stripH})`);
      s.append("rect").attr("width", pw).attr("height", stripH).attr("fill", "#D9D9D9").attr("stroke", "#6b6b6b").attr("stroke-width", 1.2);
      s.append("text").attr("x", pw / 2).attr("y", stripH / 2).attr("dy", "0.36em").attr("text-anchor", "middle")
        .attr("font-family", FONT).attr("font-size", 18).attr("fill", "#1A1A1A").text(pc);
    }
    // right strip
    if (c === percentiles.length - 1) {
      const s = g.append("g").attr("transform", `translate(${pw},0)`);
      s.append("rect").attr("width", stripW).attr("height", ph).attr("fill", "#D9D9D9").attr("stroke", "#6b6b6b").attr("stroke-width", 1.2);
      s.append("text").attr("transform", `translate(${stripW / 2},${ph / 2}) rotate(90)`).attr("dy", "0.36em").attr("text-anchor", "middle")
        .attr("font-family", FONT).attr("font-size", 17).attr("fill", "#1A1A1A").text(lev);
    }
  });
});

// axis titles
svg.append("text").attr("transform", "translate(30,486) rotate(-90)").attr("text-anchor", "middle").attr("dy", "0.36em")
  .attr("font-family", FONT).attr("font-size", 20).attr("fill", "#000").text(yTitle);
svg.append("text").attr("x", 418).attr("y", 990).attr("textLength", 430).attr("lengthAdjust", "spacingAndGlyphs")
  .attr("font-family", FONT).attr("font-size", 19).attr("fill", "#000").text(xTitle);

// legend
const legX = [229, 374, 520, 699, 884];
const legTW = [119, 118, 150, 154, 143];
const leg = svg.append("g");
seasonCodes.forEach((code, i) => {
  leg.append("line").attr("x1", legX[i]).attr("x2", legX[i] + 15).attr("y1", 1036).attr("y2", 1036)
    .attr("stroke", colorScale(code)).attr("stroke-width", 3);
  leg.append("text").attr("x", legX[i] + 20).attr("y", 1042).attr("textLength", legTW[i]).attr("lengthAdjust", "spacingAndGlyphs")
    .attr("font-family", FONT).attr("font-size", 19).attr("fill", "#1A1A1A").text(seasonNames[i]);
});

// overlay annotation box
svg.append("rect").attr("x", 139).attr("y", 39).attr("width", 679).attr("height", 77)
  .attr("fill", "#fff").attr("stroke", "#2E75B6").attr("stroke-width", 1.6);
svg.append("text").attr("x", 160).attr("y", 93).attr("textLength", 625).attr("lengthAdjust", "spacingAndGlyphs")
  .attr("font-family", "Lato, 'Open Sans', sans-serif").attr("font-size", 44).attr("fill", "#000").text(overlayText);

// orange slide accent bar
svg.append("rect").attr("x", 0).attr("y", 988).attr("width", 10).attr("height", 61).attr("fill", "#F26522");
</script>
</body></html>
